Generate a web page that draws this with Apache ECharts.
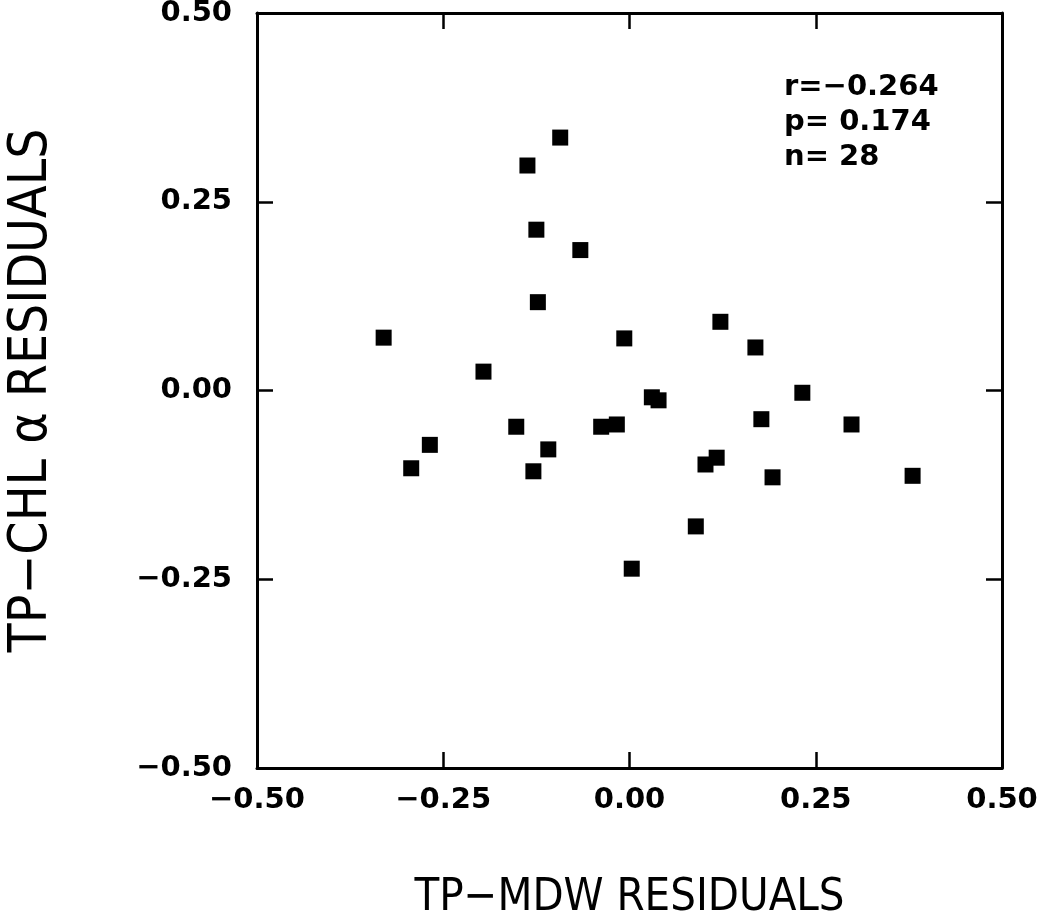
<!DOCTYPE html>
<html>
<head>
<meta charset="utf-8">
<script src="https://cdn.jsdelivr.net/npm/echarts@6/dist/echarts.min.js"></script>
<style>html,body{margin:0;padding:0;background:#fff}#c{width:1045px;height:924px}</style>
</head>
<body>
<div id="c"></div>
<script>
var xValues = [-0.330,-0.293,-0.268,-0.196,-0.152,-0.137,-0.129,-0.125,-0.123,-0.109,-0.093,-0.066,-0.038,-0.017,-0.007,0.003,0.030,0.039,0.089,0.102,0.117,0.122,0.169,0.177,0.192,0.232,0.298,0.380];
var yValues = [0.070,-0.103,-0.072,0.025,-0.048,0.298,-0.107,0.213,0.117,-0.078,0.335,0.186,-0.048,-0.045,0.069,-0.236,-0.009,-0.013,-0.180,-0.098,-0.089,0.091,0.057,-0.038,-0.115,-0.003,-0.045,-0.113];
var tickValues = [-0.50,-0.25,0.00,0.25,0.50];
var statsLines = ['r=\u22120.264','p= 0.174','n= 28'];
var xName = 'TP\u2212MDW RESIDUALS';
var yName = 'TP\u2212CHL \u03b1 RESIDUALS';

var pts = xValues.map(function(x,i){return [x,yValues[i]];});
function fmt(v){var s=Math.abs(v).toFixed(2);return (v<-1e-9?'\u2212':'')+s;}
var labelFont = {fontFamily:'DejaVu Sans',fontWeight:'bold',fontSize:29,color:'#000'};
var nameFamily = "'Liberation Sans Narrow','DejaVu Sans Condensed',sans-serif";
var lineStyle = {color:'#000',width:3};
function baseAxis(extra){
  return Object.assign({
    type:'value',min:tickValues[0],max:tickValues[tickValues.length-1],interval:0.25,
    axisLine:{show:true,onZero:false,lineStyle:lineStyle},
    axisTick:{show:true,inside:true,length:16,lineStyle:{color:'#000',width:2.5}},
    splitLine:{show:false}
  },extra);
}
var chart = echarts.init(document.getElementById('c'),null,{renderer:'canvas'});
chart.setOption({
  backgroundColor:'#fff',
  animation:false,
  grid:{left:257,right:43,top:13,bottom:156,containLabel:false,outerBoundsMode:'none'},
  xAxis:[
    baseAxis({position:'bottom',axisLabel:Object.assign({margin:18,formatter:fmt},labelFont),
      name:xName,nameLocation:'middle',nameGap:108,
      nameTextStyle:{fontFamily:nameFamily,fontSize:45,color:'#000'}}),
    baseAxis({position:'top',axisLabel:{show:false}})
  ],
  yAxis:[
    baseAxis({position:'left',axisLabel:Object.assign({margin:25,formatter:fmt},labelFont),
      name:yName,nameLocation:'middle',nameGap:198,
      nameTextStyle:{fontFamily:nameFamily,fontSize:53,color:'#000'}}),
    baseAxis({position:'right',axisLabel:{show:false}})
  ],
  graphic:[{
    type:'text',left:784,top:70,
    style:{text:statsLines.join('\n'),fontFamily:'DejaVu Sans',fontWeight:'bold',fontSize:29,lineHeight:35,fill:'#000'}
  }],
  series:[{
    type:'scatter',xAxisIndex:0,yAxisIndex:0,data:pts,
    symbol:'rect',symbolSize:16,itemStyle:{color:'#000',opacity:1}
  }]
});
</script>
</body>
</html>
